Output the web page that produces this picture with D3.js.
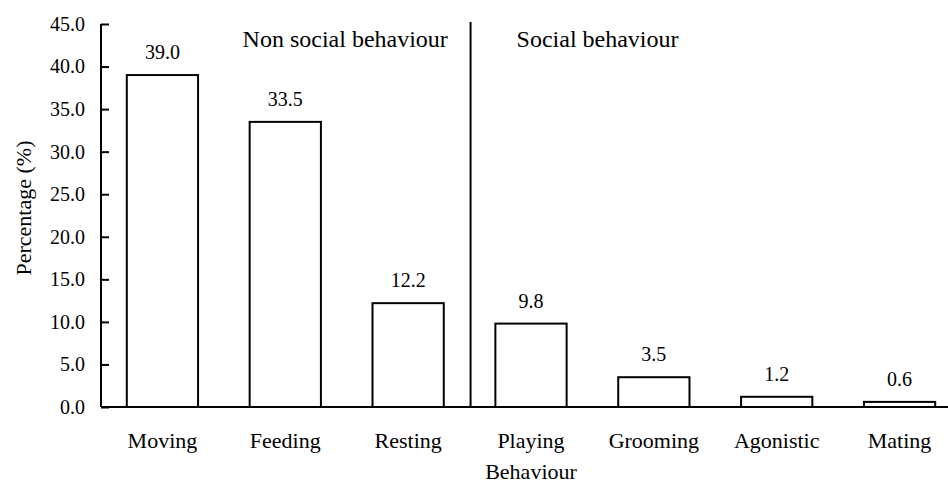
<!DOCTYPE html>
<html>
<head>
<meta charset="utf-8">
<script src="https://cdn.jsdelivr.net/npm/d3@7"></script>
<style>
  html, body { margin: 0; padding: 0; background: #fff; }
  svg { display: block; }
</style>
</head>
<body>
<svg id="chart" width="948" height="484"></svg>
<script>
const categories = ["Moving", "Feeding", "Resting", "Playing", "Grooming", "Agonistic", "Mating"];
const values = [39.0, 33.5, 12.2, 9.8, 3.5, 1.2, 0.6];
const yTicks = [0, 5, 10, 15, 20, 25, 30, 35, 40, 45];
const groupLabels = ["Non social behaviour", "Social behaviour"];
const xTitle = "Behaviour";
const yTitle = "Percentage (%)";

(function () {
const FONT = "'Liberation Serif', 'Times New Roman', Times, 'DejaVu Serif', serif";
const svg = d3.select("#chart");
const mLeft = 101, mRight = 961, mTop = 24, mBottom = 407;

const x = d3.scaleBand().domain(categories).range([mLeft, mRight])
  .paddingInner(0.42).paddingOuter(0.21);
const y = d3.scaleLinear().domain([0, 45]).range([mBottom, mTop]);

// y axis
const yAxis = svg.append("g").attr("transform", `translate(${mLeft},0)`)
  .call(d3.axisLeft(y).tickValues(yTicks).tickFormat(d3.format(".1f")).tickSize(-8).tickPadding(16));
yAxis.attr("font-family", null).attr("font-size", null);
yAxis.select(".domain").attr("stroke", "#000").attr("stroke-width", 2).attr("d", `M0,${mTop}V${mBottom}`);
yAxis.selectAll(".tick line").attr("stroke", "#000").attr("stroke-width", 2);
yAxis.selectAll(".tick text").style("font-family", FONT).style("font-size", "20px").attr("fill", "#000");

// bars
svg.append("g").selectAll("rect").data(values).join("rect")
  .attr("x", (d, i) => x(categories[i]))
  .attr("y", d => y(d))
  .attr("width", x.bandwidth())
  .attr("height", d => y(0) - y(d))
  .attr("fill", "#fff")
  .attr("stroke", "#000")
  .attr("stroke-width", 2);

// x axis baseline
svg.append("line").attr("x1", mLeft).attr("x2", 948).attr("y1", y(0)).attr("y2", y(0))
  .attr("stroke", "#000").attr("stroke-width", 2);

// value labels
svg.append("g").selectAll("text").data(values).join("text")
  .attr("x", (d, i) => x(categories[i]) + x.bandwidth() / 2)
  .attr("y", d => y(d) - 16)
  .attr("text-anchor", "middle")
  .style("font-family", FONT)
  .style("font-size", "20px")
  .text(d => d3.format(".1f")(d));

// category labels
svg.append("g").selectAll("text").data(categories).join("text")
  .attr("x", d => x(d) + x.bandwidth() / 2)
  .attr("y", 448)
  .attr("text-anchor", "middle")
  .style("font-family", FONT)
  .style("font-size", "22px")
  .text(d => d);

// divider between groups
const divX = x(categories[3]) - x.step() * x.paddingInner() / 2 + 1;
svg.append("line").attr("x1", divX).attr("x2", divX).attr("y1", 22).attr("y2", y(0))
  .attr("stroke", "#000").attr("stroke-width", 2);

// group labels
svg.append("text").attr("x", divX - 228).attr("y", 47)
  .style("font-family", FONT).style("font-size", "24px").text(groupLabels[0]);
svg.append("text").attr("x", divX + 46).attr("y", 47)
  .style("font-family", FONT).style("font-size", "24px").text(groupLabels[1]);

// axis titles
svg.append("text").attr("x", (mLeft + mRight) / 2).attr("y", 479)
  .attr("text-anchor", "middle").style("font-family", FONT).style("font-size", "22px").text(xTitle);
svg.append("text").attr("transform", `translate(31,208) rotate(-90)`)
  .attr("text-anchor", "middle").style("font-family", FONT).style("font-size", "22px").text(yTitle);
})();
</script>
</body>
</html>
